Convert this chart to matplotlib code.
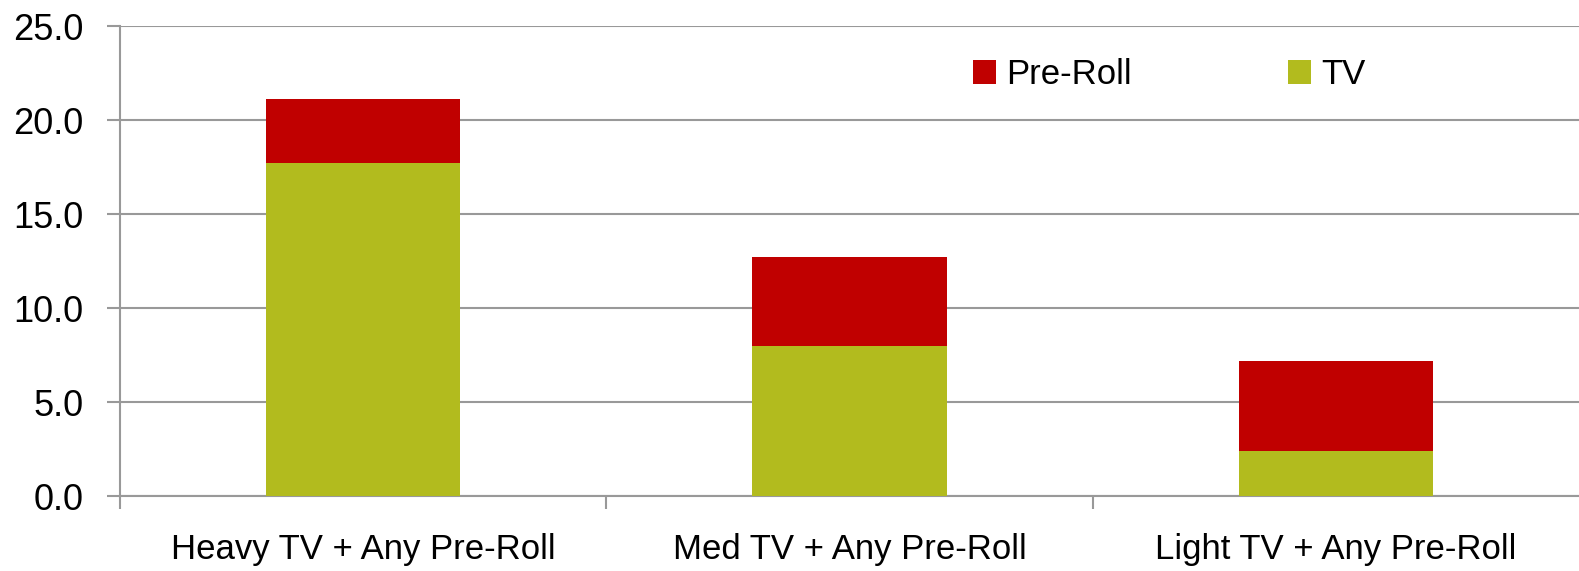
import matplotlib
matplotlib.use("Agg")
import matplotlib.pyplot as plt
import numpy as np

plt.rcParams['font.family'] = ['Liberation Sans', 'DejaVu Sans']

categories = ["Heavy TV + Any Pre-Roll", "Med TV + Any Pre-Roll", "Light TV + Any Pre-Roll"]
tv = [17.7, 8.0, 2.4]
pre_roll = [3.4, 4.7, 4.8]
yticks = [0.0, 5.0, 10.0, 15.0, 20.0, 25.0]

tv_color = "#b2bb1e"
pre_color = "#c00000"
grid_color = "#999999"

fig = plt.figure(figsize=(15.79, 5.71), dpi=100)
ax = fig.add_axes([120 / 1579, 1 - 496 / 571, 1 - 120 / 1579, 470 / 571])

x = np.arange(len(categories))
ax.bar(x, tv, width=0.4, color=tv_color, label="TV", zorder=3)
ax.bar(x, pre_roll, width=0.4, bottom=tv, color=pre_color, label="Pre-Roll", zorder=3)

ax.set_xlim(-0.5, len(categories) - 0.5)
ax.set_ylim(0, 25)
ax.set_yticks(yticks)
ax.set_yticklabels([f"{v:.1f}" for v in yticks], fontsize=26)
ax.set_xticks(x)
ax.set_xticklabels(categories, fontsize=25)
ax.tick_params(axis='x', length=0, pad=27)
ax.tick_params(axis='y', length=9.4, width=1.5, color=grid_color, pad=17)

# category separators below the baseline (none at the right end)
ax.set_xticks(np.arange(len(categories)) - 0.5, minor=True)
ax.tick_params(axis='x', which='minor', length=9.4, width=1.5, color=grid_color)

ax.yaxis.grid(True, color=grid_color, linewidth=1.5, zorder=0)
for side in ['top', 'right']:
    ax.spines[side].set_visible(False)
ax.spines['left'].set_color(grid_color)
ax.spines['left'].set_linewidth(1.5)
ax.spines['bottom'].set_color(grid_color)
ax.spines['bottom'].set_linewidth(1.5)

handles, labels = ax.get_legend_handles_labels()
ax.legend(handles[::-1], labels[::-1], ncol=2, frameon=False, fontsize=25,
          loc='upper left', bbox_to_anchor=(973 / 1579, 1 - 58 / 571),
          bbox_transform=fig.transFigure, borderpad=0, borderaxespad=0,
          handlelength=0.66, handleheight=0.66,
          handletextpad=0.3, columnspacing=4.5)

fig.savefig("out.png", dpi=100)
